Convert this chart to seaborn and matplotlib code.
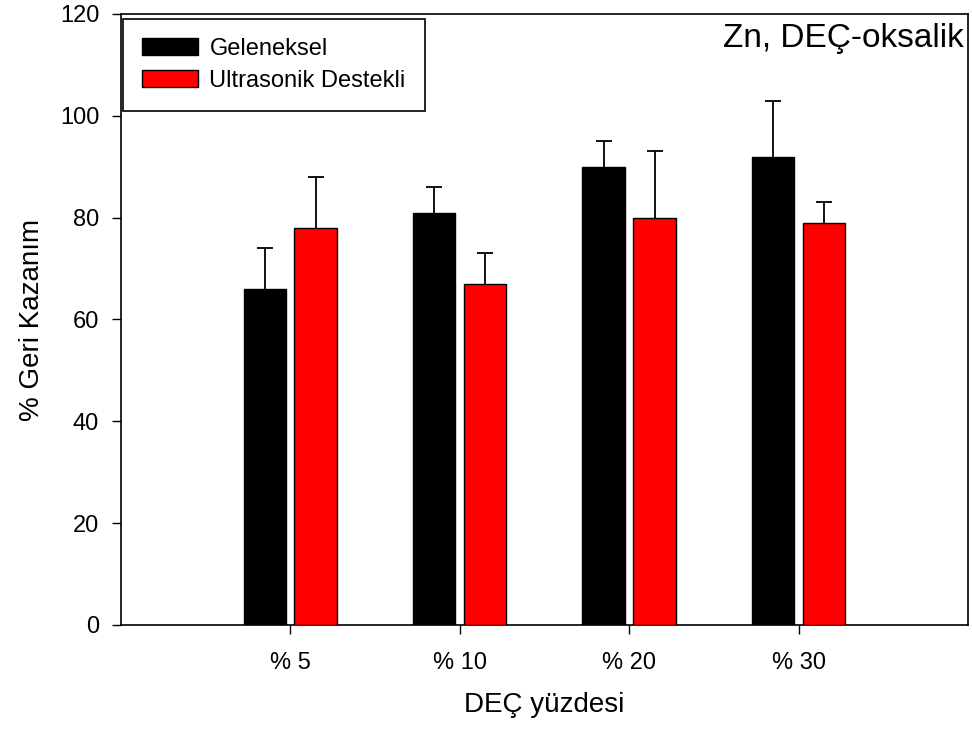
import matplotlib
matplotlib.use("Agg")
import matplotlib.pyplot as plt
import seaborn as sns
import pandas as pd
import numpy as np

categories = ["% 5", "% 10", "% 20", "% 30"]
series_names = ["Geleneksel", "Ultrasonik Destekli"]
geleneksel = [66, 81, 90, 92]
geleneksel_err = [8, 5, 5, 11]
ultrasonik = [78, 67, 80, 79]
ultrasonik_err = [10, 6, 13, 4]
colors = {"Geleneksel": "#000000", "Ultrasonik Destekli": "#ff0000"}

sns.set_style("ticks")
plt.rcParams['font.family'] = ['Liberation Sans', 'DejaVu Sans']
plt.rcParams['text.color'] = 'black'
plt.rcParams['axes.labelcolor'] = 'black'
plt.rcParams['xtick.color'] = 'black'
plt.rcParams['ytick.color'] = 'black'
plt.rcParams['axes.edgecolor'] = 'black'

df = pd.DataFrame({
    "cat": categories * 2,
    "series": [series_names[0]] * 4 + [series_names[1]] * 4,
    "val": geleneksel + ultrasonik,
})

fig = plt.figure(figsize=(9.72, 7.35), dpi=100)
ax = fig.add_axes([0.1242, 0.1497, 0.9959 - 0.1242, 0.981 - 0.1497])

sns.barplot(data=df, x="cat", y="val", hue="series", order=categories,
            hue_order=series_names, palette=colors, saturation=1,
            width=0.6, gap=1/6, edgecolor="black", linewidth=1.0,
            errorbar=None, ax=ax, zorder=3)

# error bars (upper only) from bar centers
errs = {series_names[0]: geleneksel_err, series_names[1]: ultrasonik_err}
vals = {series_names[0]: geleneksel, series_names[1]: ultrasonik}
for cont, name in zip(ax.containers, series_names):
    xs = [p.get_x() + p.get_width() / 2 for p in cont.patches]
    v = np.array(vals[name], dtype=float)
    e = np.array(errs[name], dtype=float)
    eb = ax.errorbar(xs, v, yerr=[np.zeros_like(e), e], fmt="none", ecolor="black",
                     elinewidth=1.3, capsize=6, capthick=1.3, zorder=2)
    caps = eb[1]
    if len(caps) == 2:
        caps[0].set_visible(False)

ax.set_xlim(-1, 4)
ax.set_ylim(0, 120)
ax.set_yticks([0, 20, 40, 60, 80, 100, 120])
ax.tick_params(axis="both", direction="out", length=6.5, width=1.0,
               labelsize=17, color="black", labelcolor="black")
ax.tick_params(axis="x", pad=13)
ax.tick_params(axis="y", pad=9)
for s in ax.spines.values():
    s.set_visible(True)
    s.set_linewidth(1.2)
    s.set_color("black")

ax.set_xlabel("DEÇ yüzdesi", fontsize=20, labelpad=13, color="black")
ax.set_ylabel("% Geri Kazanım", fontsize=20, labelpad=11, color="black")

ax.text(0.995, 0.985, "Zn, DEÇ-oksalik", transform=ax.transAxes,
        ha="right", va="top", fontsize=24, color="black")

leg = ax.legend(loc="upper left", bbox_to_anchor=(0.003, 0.992),
                fontsize=17, frameon=True, fancybox=False, edgecolor="black",
                framealpha=1, handlelength=2.35, handleheight=0.7,
                borderpad=0.8, labelspacing=0.42, handletextpad=0.5,
                borderaxespad=0)
leg.get_frame().set_linewidth(1.2)
for t in leg.get_texts():
    t.set_color("black")
for h in leg.legend_handles:
    h.set_edgecolor("black")
    h.set_linewidth(1.0)

fig.savefig("out.png", dpi=100)
